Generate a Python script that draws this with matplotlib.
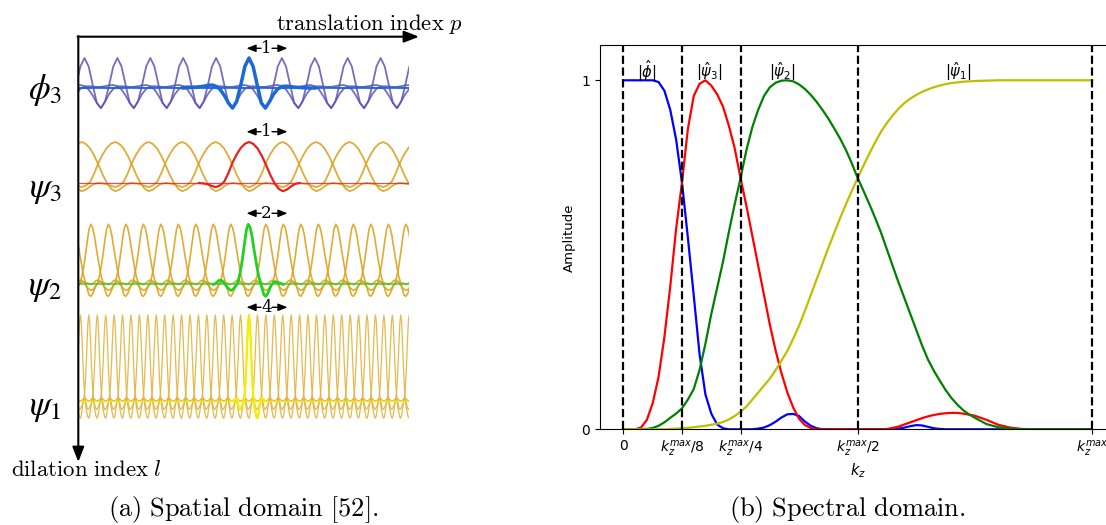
import numpy as np
import matplotlib
matplotlib.use("Agg")
import matplotlib.pyplot as plt

# ---------------- data: spectral domain (right panel) ----------------
k_grid = np.array(
    [0.0, 0.0125, 0.025, 0.0375, 0.05, 0.0625, 0.075, 0.0875, 0.1, 0.1125,
     0.125, 0.1375, 0.15, 0.1625, 0.175, 0.1875, 0.2, 0.2125, 0.225, 0.2375,
     0.25, 0.2625, 0.275, 0.2875, 0.3, 0.3125, 0.325, 0.3375, 0.35, 0.3625,
     0.375, 0.3875, 0.4, 0.4125, 0.425, 0.4375, 0.45,
     0.4625, 0.475, 0.4875, 0.5, 0.5125, 0.525, 0.5375, 0.55, 0.5625, 0.575,
     0.5875, 0.6, 0.6125, 0.625, 0.6375, 0.65, 0.6625, 0.675, 0.6875, 0.7,
     0.7125, 0.725, 0.7375, 0.75,
     0.775, 0.8, 0.825, 0.85, 0.875, 0.9, 0.925, 0.95, 0.975, 1.0])

amp_phi = [1, 1, 1, 1, 1, 1.0, 0.995, 0.97, 0.915, 0.83,
           0.707, 0.55, 0.385, 0.215, 0.10, 0.045, 0.014, 0.003, 0, 0,
           0, 0, 0, 0.002, 0.005, 0.012, 0.022, 0.034, 0.043, 0.044,
           0.038, 0.022, 0.01, 0.003, 0, 0, 0,
           0, 0, 0, 0, 0, 0, 0, 0, 0, 0.001,
           0.002, 0.005, 0.009, 0.012, 0.011, 0.007, 0.003, 0.001, 0, 0,
           0, 0, 0, 0,
           0, 0, 0, 0, 0, 0, 0, 0, 0, 0]
amp_psi3 = [0, 0, 0, 0.005, 0.027, 0.075, 0.15, 0.265, 0.41, 0.575,
            0.707, 0.86, 0.955, 0.99, 1.0, 0.985, 0.96, 0.925, 0.87, 0.805,
            0.72, 0.64, 0.555, 0.47, 0.385, 0.30, 0.225, 0.16, 0.105, 0.062,
            0.03, 0.012, 0.004, 0, 0, 0, 0,
            0, 0, 0, 0, 0, 0, 0, 0, 0.001, 0.004,
            0.008, 0.014, 0.02, 0.026, 0.032, 0.037, 0.041, 0.044, 0.046, 0.047,
            0.047, 0.045, 0.042, 0.039,
            0.027, 0.013, 0.005, 0.001, 0, 0, 0, 0, 0, 0]
amp_psi2 = [0, 0, 0, 0, 0.001, 0.004, 0.01, 0.02, 0.033, 0.045,
            0.06, 0.085, 0.115, 0.17, 0.245, 0.33, 0.405, 0.48, 0.565, 0.645,
            0.72, 0.80, 0.865, 0.915, 0.955, 0.98, 0.993, 0.999, 1.0, 0.997,
            0.988, 0.975, 0.958, 0.938, 0.915, 0.89, 0.862,
            0.833, 0.80, 0.762, 0.72, 0.683, 0.645, 0.605, 0.563, 0.515, 0.467,
            0.42, 0.375, 0.33, 0.285, 0.24, 0.20, 0.168, 0.14, 0.113, 0.09,
            0.071, 0.055, 0.043, 0.033,
            0.015, 0.006, 0.002, 0, 0, 0, 0, 0, 0, 0]
amp_psi1 = [0, 0, 0, 0, 0, 0, 0, 0, 0.001, 0.002,
            0.003, 0.004, 0.006, 0.008, 0.01, 0.013, 0.016, 0.021, 0.028, 0.038,
            0.05, 0.065, 0.085, 0.105, 0.125, 0.145, 0.17, 0.197, 0.225, 0.26,
            0.297, 0.34, 0.385, 0.43, 0.475, 0.52, 0.563,
            0.605, 0.645, 0.683, 0.72, 0.756, 0.79, 0.823, 0.853, 0.878, 0.90,
            0.919, 0.935, 0.948, 0.958, 0.967, 0.974, 0.98, 0.985, 0.989, 0.992,
            0.994, 0.996, 0.997, 0.998,
            0.999, 1, 1, 1, 1, 1, 1, 1, 1, 1]

band_edges = [0, 1/8, 1/4, 1/2, 1]
band_tick_labels = ['0', r'$k_z^{max}/8$', r'$k_z^{max}/4$', r'$k_z^{max}/2$', r'$k_z^{max}$']
band_names = [r'$|\hat{\phi}|$', r'$|\hat{\psi}_3|$', r'$|\hat{\psi}_2|$', r'$|\hat{\psi}_1|$']
band_name_pos = [0.051, 0.184, 0.34, 0.716]

# ---------------- data: spatial domain (left panel) ----------------
u_phi3 = np.arange(-2.0, 2.0001, 0.125)
v_phi3 = [0, 0.01, 0.02, 0.03, 0.04, 0.06, 0.09, 0.1, 0.06, -0.05, -0.25,
          -0.5, -0.67, -0.45, 0.1, 0.72, 1.0, 0.72, 0.1, -0.5, -0.67, -0.45,
          -0.2, -0.03, 0.05, 0.06, 0.05, 0.03, 0.02, 0.01, 0.005, 0, 0]
u_psi3 = np.arange(-1.5, 1.5001, 0.125)
v_psi3 = [0, -0.01, -0.03, -0.07, -0.1, -0.06, 0.03, 0.24, 0.5, 0.7, 0.86,
          0.96, 1.0, 0.95, 0.84, 0.66, 0.44, 0.2, 0.0, -0.14, -0.2, -0.16,
          -0.08, -0.02, 0]
u_psi2 = np.arange(-2.0, 2.0001, 0.1)
v_psi2 = [0, 0.01, 0.03, 0.06, 0.07, 0.06, 0.03, -0.01, -0.05, -0.08, -0.1,
          -0.09, -0.06, -0.02, 0.03, 0.15, 0.3, 0.5, 0.72, 0.92, 1.0,
          0.95, 0.82, 0.63, 0.45, 0.28, 0.13, 0.03, -0.08, -0.18, -0.2,
          -0.16, -0.09, -0.02, 0.02, 0.04, 0.04, 0.03, 0.02, 0.01, 0]
u_psi1 = np.arange(-2.0, 2.0001, 0.1)
v_psi1 = [0, 0.005, 0.01, 0.02, 0.03, 0.03, 0.01, -0.04, -0.08, -0.1, -0.09,
          -0.07, -0.05, -0.03, 0.02, 0.1, 0.25, 0.45, 0.7, 0.92, 1.0,
          0.92, 0.7, 0.45, 0.22, 0.08, -0.03, -0.1, -0.15, -0.19, -0.2,
          -0.17, -0.1, -0.03, 0.02, 0.03, 0.03, 0.02, 0.01, 0.005, 0]

row_labels = [r'$\phi_3$', r'$\psi_3$', r'$\psi_2$', r'$\psi_1$']
step_labels = ['1', '1', '2', '4']

# ---------------- figure ----------------
W, H = 1106, 525
fig = plt.figure(figsize=(W / 100, H / 100), dpi=100)


def px_axes(x0, x1, y_top, y_bot):
    return fig.add_axes([x0 / W, 1 - y_bot / H, (x1 - x0) / W, (y_bot - y_top) / H])


# ---- right panel ----
ax = px_axes(600, 600 + 1.1 * 468.5, 45.4, 429.3)
ax.plot(k_grid, amp_phi, color='b', lw=1.6)
ax.plot(k_grid, amp_psi3, color='r', lw=1.6)
ax.plot(k_grid, amp_psi2, color='g', lw=1.6)
ax.plot(k_grid, amp_psi1, color='y', lw=1.6)
for b in band_edges:
    ax.axvline(b, color='k', ls='--', lw=1.6)
ax.set_xlim(-0.05, 1.05)
ax.set_ylim(0, 1.1)
ax.set_xticks(band_edges, labels=band_tick_labels, fontsize=10)
ax.set_yticks([0, 1], labels=['0', '1'], fontsize=10)
ax.set_xlabel(r'$k_z$', fontsize=10.5, labelpad=2)
ax.set_ylabel('Amplitude', fontsize=9.5)
for name, pos in zip(band_names, band_name_pos):
    ax.text(pos, 1.025, name, ha='center', va='center', fontsize=10.5)


# ---- left panel rows ----
def wavelet_row(u, v, center, spacing, baseline, unit, c_copy, lw_copy, a_copy,
                c_hl, lw_hl):
    x0, x1 = 78, 409
    rax = px_axes(x0, x1, baseline - 1.3 * unit, baseline + 1.0 * unit)
    lo, hi = (x0 - center) / spacing, (x1 - center) / spacing
    rax.set_xlim(lo, hi)
    rax.set_ylim(-1.0, 1.3)
    rax.axis('off')
    u = np.asarray(u)
    for n in range(int(np.floor(lo)) - 2, int(np.ceil(hi)) + 3):
        rax.plot(u + n, v, color=c_copy, lw=lw_copy, alpha=a_copy)
    rax.axhline(0, color=c_hl, lw=lw_hl * 0.6, alpha=0.8)
    rax.plot(u, v, color=c_hl, lw=lw_hl)
    return rax


wavelet_row(u_phi3, v_phi3, 249, 32.9, 88, 30, '#5a55b8', 1.3, 0.85, '#1b68d6', 2.5)
wavelet_row(u_psi3, v_psi3, 249.3, 33.5, 183, 41, '#dca321', 1.3, 0.9, '#ee1c24', 1.5)
wavelet_row(u_psi2, v_psi2, 248.3, 17.5, 284.3, 60, '#dca321', 1.2, 0.9, '#22d022', 2.0)
wavelet_row(u_psi1, v_psi1, 249, 8.43, 401, 86, '#e2b23a', 0.9, 0.9, '#f6ee00', 1.6)

# ---- overlay: axes arrows, labels, captions ----
ov = fig.add_axes([0, 0, 1, 1])
ov.set_xlim(0, W)
ov.set_ylim(H, 0)
ov.axis('off')

big_head = dict(arrowstyle='-|>,head_length=0.9,head_width=0.35', color='k',
                lw=1.5, shrinkA=0, shrinkB=0)
ov.annotate('', xy=(419, 36.7), xytext=(77.6, 36.7), arrowprops=big_head)
ov.annotate('', xy=(78.3, 462), xytext=(78.3, 36.0), arrowprops=big_head)

ov.text(276, 30, r'$\mathrm{translation\ index}\ p$', math_fontfamily='cm',
        fontsize=16.3, ha='left', va='baseline')
ov.text(11, 476.5, r'$\mathrm{dilation\ index}\ l$', math_fontfamily='cm',
        fontsize=16.4, ha='left', va='baseline')

label_y = [90, 189, 287, 407]
for lab, y in zip(row_labels, label_y):
    ov.text(45, y, lab, math_fontfamily='stix', fontsize=25, ha='center', va='center')

small_head = dict(arrowstyle='-|>,head_length=0.55,head_width=0.22', color='k',
                  lw=1.0, shrinkA=0, shrinkB=0)
arrow_y = [48.3, 131.7, 213.3, 307.3]
for s, y in zip(step_labels, arrow_y):
    ov.annotate('', xy=(246.5, y), xytext=(261, y), arrowprops=small_head)
    ov.annotate('', xy=(287.5, y), xytext=(272, y), arrowprops=small_head)
    ov.text(266.5, y, s, math_fontfamily='cm', fontsize=12, ha='center', va='center',
            family='serif')

ov.text(243, 516, r'$\mathrm{(a)\ Spatial\ domain\ [52].}$', math_fontfamily='cm',
        fontsize=19, ha='center', va='baseline')
ov.text(847, 516, r'$\mathrm{(b)\ Spectral\ domain.}$', math_fontfamily='cm',
        fontsize=19, ha='center', va='baseline')

fig.savefig('out.png', dpi=100)
